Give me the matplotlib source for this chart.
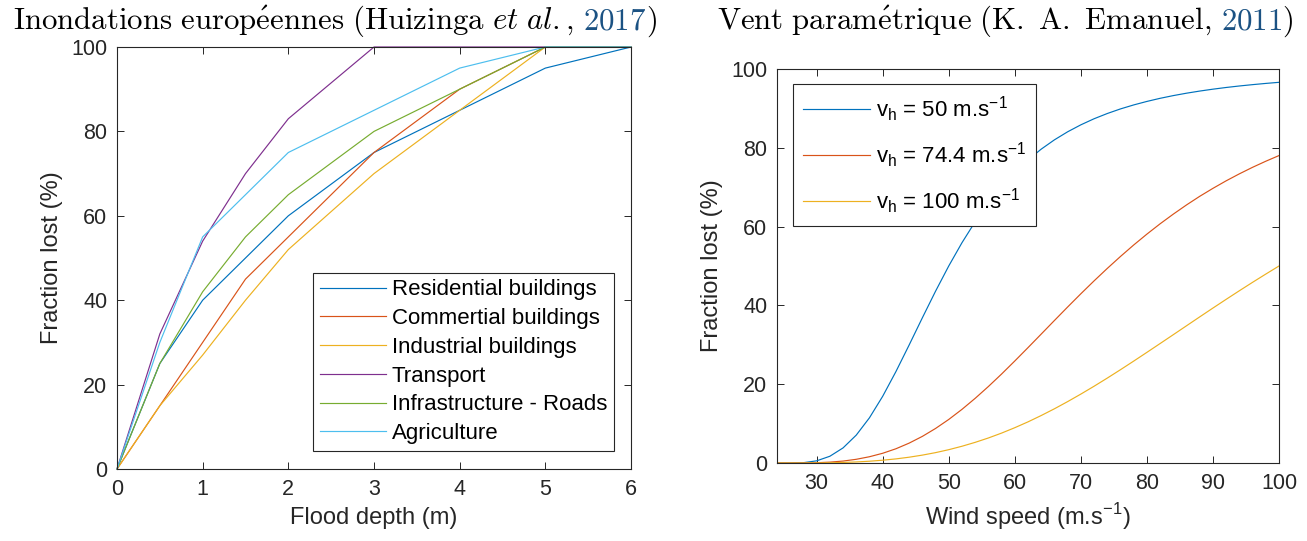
import numpy as np
import matplotlib
matplotlib.use("Agg")
from matplotlib import pyplot as plt

plt.rcParams['font.family'] = ['Liberation Sans', 'DejaVu Sans']

# ---- Data: flood depth-damage curves (Huizinga et al., 2017)
depth = [0, 0.5, 1, 1.5, 2, 3, 4, 5, 6]
residential = [0, 25, 40, 50, 60, 75, 85, 95, 100]
commercial = [0, 15, 30, 45, 55, 75, 90, 100, 100]
industrial = [0, 15, 27, 40, 52, 70, 85, 100, 100]
transport = [0, 32, 54, 70, 83, 100, 100, 100, 100]
roads = [0, 25, 42, 55, 65, 80, 90, 100, 100]
agriculture = [0, 30, 55, 65, 75, 85, 95, 100, 100]
flood_labels = ["Residential buildings", "Commertial buildings", "Industrial buildings",
                "Transport", "Infrastructure - Roads", "Agriculture"]

# ---- Data: wind damage curves
wind = [24, 26, 28, 30, 32, 34, 36, 38, 40, 42, 44, 46, 48, 50, 52, 54, 56, 58, 60,
        62, 64, 66, 68, 70, 72, 74, 76, 78, 80, 82, 84, 86, 88, 90, 92, 94, 96, 98, 100]
loss_50 = [0, 0, 0.08, 0.55, 1.71, 3.83, 7.08, 11.48, 16.93, 23.19, 29.93, 36.83, 43.59,
           50.0, 55.90, 61.23, 65.97, 70.14, 73.77, 76.92, 79.66, 82.02, 84.06, 85.83,
           87.37, 88.70, 89.87, 90.88, 91.77, 92.56, 93.25, 93.86, 94.40, 94.88, 95.31,
           95.69, 96.03, 96.34, 96.62]
loss_74 = [0, 0, 0.01, 0.07, 0.22, 0.49, 0.94, 1.59, 2.47, 3.61, 5.04, 6.75, 8.76, 11.05,
           13.61, 16.41, 19.41, 22.58, 25.89, 29.28, 32.72, 36.17, 39.59, 42.95, 46.22,
           49.38, 52.42, 55.33, 58.09, 60.71, 63.17, 65.50, 67.69, 69.71, 71.62, 73.39,
           75.05, 76.59, 78.03]
loss_100 = [0, 0, 0, 0.02, 0.06, 0.14, 0.27, 0.45, 0.71, 1.04, 1.47, 2.00, 2.63, 3.38,
            4.25, 5.24, 6.35, 7.59, 8.96, 10.44, 12.05, 13.76, 15.58, 17.49, 19.48, 21.55,
            23.68, 25.86, 28.08, 30.32, 32.57, 34.83, 37.09, 39.33, 41.54, 43.72, 45.86,
            47.95, 50.0]
wind_labels = [r"v$_{\mathregular{h}}$ = 50 m.s$^{\mathregular{-1}}$",
               r"v$_{\mathregular{h}}$ = 74.4 m.s$^{\mathregular{-1}}$",
               r"v$_{\mathregular{h}}$ = 100 m.s$^{\mathregular{-1}}$"]

colors = ['#0072BD', '#D95319', '#EDB120', '#7E2F8E', '#77AC30', '#4DBEEE']
axcol = '#262626'
fs_tick = 15.5
fs_label = 17
fs_leg = 16
lw = 0.85

W, H = 1307, 541
fig = plt.figure(figsize=(W / 100, H / 100), dpi=100)
ax1 = fig.add_axes([117 / W, 1 - 469 / H, 514 / W, 422 / H])
ax2 = fig.add_axes([777 / W, 1 - 463 / H, 502 / W, 394 / H])


def style(ax):
    ax.tick_params(direction='in', length=5, width=0.7, top=True, right=True,
                   labelsize=fs_tick, colors=axcol, pad=7)
    for s in ax.spines.values():
        s.set_color(axcol)
        s.set_linewidth(0.8)


# left panel
flood = [residential, commercial, industrial, transport, roads, agriculture]
for y, c, lab in zip(flood, colors, flood_labels):
    ax1.plot(depth, y, color=c, lw=lw, label=lab, clip_on=False)
ax1.set_xlim(0, 6)
ax1.set_ylim(0, 100)
ax1.set_xticks(range(0, 7))
ax1.set_yticks(range(0, 101, 20))
ax1.set_xlabel("Flood depth (m)", fontsize=fs_label, color=axcol, labelpad=5)
ax1.set_ylabel("Fraction lost (%)", fontsize=fs_label, color=axcol, labelpad=6)
style(ax1)
leg = ax1.legend(loc='lower right', bbox_to_anchor=(0.967, 0.043), borderaxespad=0,
                 fontsize=fs_leg, handlelength=3.0, handletextpad=0.26, labelspacing=0.35,
                 borderpad=0.3, fancybox=False, framealpha=1, edgecolor=axcol)
leg.get_frame().set_linewidth(0.8)

# right panel
for y, c, lab in zip([loss_50, loss_74, loss_100], colors[:3], wind_labels):
    ax2.plot(wind, y, color=c, lw=lw, label=lab)
ax2.set_xlim(24, 100)
ax2.set_ylim(0, 100)
ax2.set_xticks(range(30, 101, 10))
ax2.set_yticks(range(0, 101, 20))
ax2.set_xlabel(r"Wind speed (m.s$^{\mathregular{-1}}$)", fontsize=fs_label, color=axcol, labelpad=5)
ax2.set_ylabel("Fraction lost (%)", fontsize=fs_label, color=axcol, labelpad=6)
style(ax2)
leg2 = ax2.legend(loc='upper left', bbox_to_anchor=(0.032, 0.961), borderaxespad=0,
                  fontsize=fs_leg, handlelength=3.0, handletextpad=0.26, labelspacing=0.75,
                  borderpad=0.45, fancybox=False, framealpha=1, edgecolor=axcol)
leg2.get_frame().set_linewidth(0.8)

# titles in LaTeX style, with the citation year in blue
blue = '#1b5283'


def rich_title(parts, xc, y):
    texts = [fig.text(0, y, s, color=c, fontsize=22.2, math_fontfamily='cm', va='baseline')
             for s, c in parts]
    fig.canvas.draw()
    r = fig.canvas.get_renderer()
    widths = [t.get_window_extent(r).width for t in texts]
    x = xc - sum(widths) / 2
    for t, w in zip(texts, widths):
        t.set_x(x / W)
        x += w


rich_title([(r"$\mathrm{Inondations\ europ\acute{e}ennes\ (Huizinga\ }\mathit{et\ al}\mathrm{.,}$", 'black'),
            (r"$\mathrm{\ 2017}$", blue), (r"$\mathrm{)}$", 'black')], 335, 1 - 29 / H)
rich_title([(r"$\mathrm{Vent\ param\acute{e}trique\ (K.\ A.\ Emanuel,}$", 'black'),
            (r"$\mathrm{\ 2011}$", blue), (r"$\mathrm{)}$", 'black')], 1005, 1 - 29 / H)

fig.savefig("out.png", dpi=100)
